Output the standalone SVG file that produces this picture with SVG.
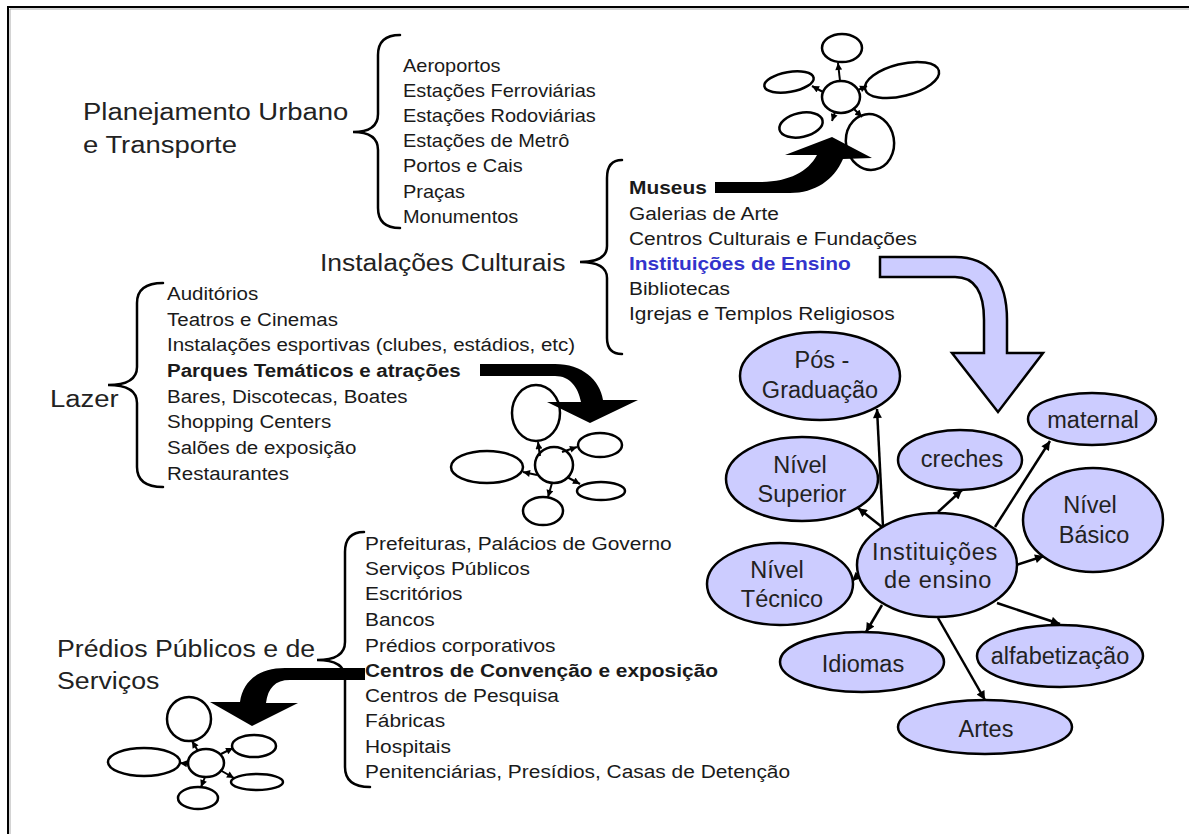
<svg xmlns="http://www.w3.org/2000/svg" width="1189" height="834" viewBox="0 0 1189 834">
  <style>
    .sm { font-family: "Liberation Sans", Arial, sans-serif; font-size: 19px; fill: #1a1a1a; }
    .lg { font-family: "Liberation Sans", Arial, sans-serif; font-size: 24.5px; fill: #222; }
    .b { font-weight: bold; }
    .blue { fill: #3333cc; }
    .brace { fill: none; stroke: #000; stroke-width: 2.5; stroke-linecap: round; }
    .node ellipse { fill: #ccccff; stroke: #000; stroke-width: 2.5; }
    .node text { font-family: "Liberation Sans", Arial, sans-serif; font-size: 23.5px; fill: #222; text-anchor: middle; }
    .mini { fill: #fff; stroke: #000; stroke-width: 2.5; }
    .edge { stroke: #000; stroke-width: 2.5; fill: none; marker-end: url(#ah); }
    .medge { stroke: #000; stroke-width: 2; fill: none; marker-end: url(#ahs); }
    .bigarrow { fill: #000; }
  </style>
  <defs>
    <marker id="ah" viewBox="0 0 10 10" refX="10" refY="5" markerWidth="11" markerHeight="9" markerUnits="userSpaceOnUse" orient="auto">
      <path d="M0,0 L10,5 L0,10 z" fill="#000"/>
    </marker>
    <marker id="ahs" viewBox="0 0 10 10" refX="10" refY="5" markerWidth="8" markerHeight="7" markerUnits="userSpaceOnUse" orient="auto">
      <path d="M0,0 L10,5 L0,10 z" fill="#000"/>
    </marker>
  </defs>

  <rect width="1189" height="834" fill="#fff"/>
  <!-- frame -->
  <path d="M8,860 L8,7 L1189,7" fill="none" stroke="#000" stroke-width="2"/>
  <path d="M10,860 L10,9 L1189,9" fill="none" stroke="#aaa" stroke-width="1"/>

  <!-- Planejamento Urbano e Transporte -->
  <g id="planejamento">
    <g transform="translate(83 0) scale(1.12 1)">
      <text class="lg" x="0" y="120">Planejamento Urbano</text>
      <text class="lg" x="0" y="153">e Transporte</text>
    </g>
    <path class="brace" d="M400,35 Q378,35 378,55 L378,114 Q378,132 353,132 Q378,132 378,150 L378,208 Q378,228 400,228"/>
    <g transform="translate(403 0) scale(1.05 1)">
      <text class="sm" x="0" y="72">Aeroportos</text>
      <text class="sm" x="0" y="97">Estações Ferroviárias</text>
      <text class="sm" x="0" y="122">Estações Rodoviárias</text>
      <text class="sm" x="0" y="147">Estações de Metrô</text>
      <text class="sm" x="0" y="172">Portos e Cais</text>
      <text class="sm" x="0" y="198">Praças</text>
      <text class="sm" x="0" y="223">Monumentos</text>
    </g>
  </g>

  <!-- Instalações Culturais -->
  <g id="culturais">
    <g transform="translate(320 0) scale(1.08 1)">
      <text class="lg" x="0" y="271">Instalações Culturais</text>
    </g>
    <path class="brace" d="M622,160 Q607,160 607,178 L607,246 Q607,262 580,262 Q607,262 607,278 L607,338 Q607,354 622,354"/>
    <g transform="translate(629 0) scale(1.1 1)">
      <text class="sm b" x="0" y="194">Museus</text>
      <text class="sm" x="0" y="220">Galerias de Arte</text>
      <text class="sm" x="0" y="245">Centros Culturais e Fundações</text>
      <text class="sm b blue" x="0" y="270">Instituições de Ensino</text>
      <text class="sm" x="0" y="295">Bibliotecas</text>
      <text class="sm" x="0" y="320">Igrejas e Templos Religiosos</text>
    </g>
  </g>

  <!-- Lazer -->
  <g id="lazer">
    <g transform="translate(50 0) scale(1.12 1)">
      <text class="lg" x="0" y="407">Lazer</text>
    </g>
    <path class="brace" d="M163,283 Q137,283 137,303 L137,367 Q137,385 108,385 Q137,385 137,403 L137,467 Q137,487 163,487"/>
    <g transform="translate(167 0) scale(1.08 1)">
      <text class="sm" x="0" y="300">Auditórios</text>
      <text class="sm" x="0" y="326">Teatros e Cinemas</text>
      <text class="sm" x="0" y="351">Instalações esportivas (clubes, estádios, etc)</text>
      <text class="sm b" x="0" y="377">Parques Temáticos e atrações</text>
      <text class="sm" x="0" y="403">Bares, Discotecas, Boates</text>
      <text class="sm" x="0" y="428">Shopping Centers</text>
      <text class="sm" x="0" y="454">Salões de exposição</text>
      <text class="sm" x="0" y="480">Restaurantes</text>
    </g>
  </g>

  <!-- Prédios Públicos e de Serviços -->
  <g id="predios">
    <g transform="translate(57 0) scale(1.09 1)">
      <text class="lg" x="0" y="657">Prédios Públicos e de</text>
      <text class="lg" x="0" y="689">Serviços</text>
    </g>
    <path class="brace" d="M364,532 Q345,532 345,552 L345,642 Q345,660 317,660 Q345,660 345,678 L345,767 Q345,787 370,787"/>
    <g transform="translate(365 0) scale(1.1 1)">
      <text class="sm" x="0" y="550">Prefeituras, Palácios de Governo</text>
      <text class="sm" x="0" y="575">Serviços Públicos</text>
      <text class="sm" x="0" y="600">Escritórios</text>
      <text class="sm" x="0" y="626">Bancos</text>
      <text class="sm" x="0" y="652">Prédios corporativos</text>
      <text class="sm b" x="0" y="677">Centros de Convenção e exposição</text>
      <text class="sm" x="0" y="702">Centros de Pesquisa</text>
      <text class="sm" x="0" y="727">Fábricas</text>
      <text class="sm" x="0" y="753">Hospitais</text>
      <text class="sm" x="0" y="778">Penitenciárias, Presídios, Casas de Detenção</text>
    </g>
  </g>

  <!-- small cluster sketch: top right -->
  <g id="cluster-top">
    <ellipse class="mini" cx="842" cy="48" rx="20" ry="14"/>
    <ellipse class="mini" cx="789" cy="82" rx="25" ry="10" transform="rotate(-10 789 82)"/>
    <ellipse class="mini" cx="841" cy="97" rx="19" ry="16"/>
    <ellipse class="mini" cx="902" cy="80" rx="38" ry="16" transform="rotate(-14 902 80)"/>
    <ellipse class="mini" cx="801" cy="125" rx="22" ry="12" transform="rotate(-12 801 125)"/>
    <ellipse class="mini" cx="870" cy="142" rx="24" ry="28" transform="rotate(-10 870 142)"/>
    <line class="medge" x1="840" y1="81" x2="838" y2="63"/>
    <line class="medge" x1="823" y1="92" x2="812" y2="86"/>
    <line class="medge" x1="858" y1="90" x2="867" y2="86"/>
    <line class="medge" x1="835" y1="112" x2="832" y2="121"/>
    <line class="medge" x1="853" y1="108" x2="862" y2="117"/>
  </g>

  <!-- small cluster sketch: middle -->
  <g id="cluster-mid">
    <ellipse class="mini" cx="536" cy="413" rx="24" ry="28"/>
    <ellipse class="mini" cx="554" cy="465" rx="19" ry="18"/>
    <ellipse class="mini" cx="487" cy="467" rx="36" ry="16"/>
    <ellipse class="mini" cx="600" cy="445" rx="22" ry="12"/>
    <ellipse class="mini" cx="601" cy="491" rx="24" ry="9"/>
    <ellipse class="mini" cx="543" cy="511" rx="20" ry="14"/>
    <line class="medge" x1="540" y1="456" x2="538" y2="442"/>
    <line class="medge" x1="562" y1="452" x2="577" y2="447"/>
    <line class="medge" x1="537" y1="475" x2="523" y2="472"/>
    <line class="medge" x1="567" y1="477" x2="580" y2="484"/>
    <line class="medge" x1="552" y1="483" x2="548" y2="497"/>
  </g>

  <!-- small cluster sketch: bottom left -->
  <g id="cluster-bottom">
    <ellipse class="mini" cx="189" cy="719" rx="22" ry="22"/>
    <ellipse class="mini" cx="206" cy="763" rx="18" ry="14"/>
    <ellipse class="mini" cx="144" cy="762" rx="36" ry="14"/>
    <ellipse class="mini" cx="254" cy="746" rx="22" ry="11"/>
    <ellipse class="mini" cx="257" cy="782" rx="26" ry="8"/>
    <ellipse class="mini" cx="198" cy="798" rx="20" ry="11"/>
    <line class="medge" x1="198" y1="751" x2="192" y2="741"/>
    <line class="medge" x1="189" y1="764" x2="180" y2="763"/>
    <line class="medge" x1="221" y1="754" x2="233" y2="748"/>
    <line class="medge" x1="220" y1="770" x2="234" y2="778"/>
    <line class="medge" x1="205" y1="777" x2="201" y2="787"/>
  </g>

  <!-- thick black arrows towards the small cluster sketches (drawn over them) -->
  <path class="bigarrow" d="M715,182 L760,182 C788,182 808,172 817,155 L785,155 L832,137 L872,158 L843,159 C834,180 815,193 790,193 L715,193 Z"/>
  <path class="bigarrow" d="M480,364 L555,364 C582,364 600,380 603,400 L638,400 L590,423 L547,402 L581,402 C578,387 570,376 555,376 L480,376 Z"/>
  <path class="bigarrow" d="M365,668 L285,668 C260,668 243,680 240,702 L210,702 L252,726 L298,703 L266,703 C268,688 275,680 290,680 L365,680 Z"/>

  <!-- lavender arrow from Instituições de Ensino down to the concept map -->
  <path d="M880,257 L955,257 C990,257 1007,280 1007,320 L1007,353 L1043,353 L998,412 L952,353 L984,353 L984,320 C984,292 975,277 955,277 L880,277 Z" fill="#ccccff" stroke="#000" stroke-width="2.5" stroke-linejoin="miter"/>

  <!-- concept map connectors -->
  <g id="connectors">
    <line class="edge" x1="883" y1="527" x2="877" y2="409"/>
    <line class="edge" x1="882" y1="527" x2="858" y2="508"/>
    <line class="edge" x1="938" y1="512" x2="962" y2="490"/>
    <line class="edge" x1="995" y1="527" x2="1050" y2="441"/>
    <line class="edge" x1="1016" y1="565" x2="1044" y2="556"/>
    <line class="edge" x1="862" y1="572" x2="852" y2="581"/>
    <line class="edge" x1="882" y1="605" x2="866" y2="632"/>
    <line class="edge" x1="997" y1="603" x2="1060" y2="624"/>
    <line class="edge" x1="938" y1="618" x2="985" y2="700"/>
  </g>

  <!-- concept map nodes -->
  <g id="pos-graduacao" class="node">
    <ellipse cx="820" cy="376" rx="80" ry="44"/>
    <text x="822" y="368">Pós -</text>
    <text x="820" y="398">Graduação</text>
  </g>
  <g id="nivel-superior" class="node">
    <ellipse cx="802" cy="479" rx="76" ry="42"/>
    <text x="800" y="473">Nível</text>
    <text x="802" y="502">Superior</text>
  </g>
  <g id="creches" class="node">
    <ellipse cx="960" cy="460" rx="62" ry="30"/>
    <text x="962" y="467">creches</text>
  </g>
  <g id="maternal" class="node">
    <ellipse cx="1092" cy="419" rx="64" ry="26"/>
    <text x="1093" y="428">maternal</text>
  </g>
  <g id="nivel-basico" class="node">
    <ellipse cx="1093" cy="520" rx="70" ry="52"/>
    <text x="1090" y="513">Nível</text>
    <text x="1094" y="543">Básico</text>
  </g>
  <g id="instituicoes" class="node">
    <ellipse cx="937" cy="565" rx="80" ry="52"/>
    <text x="935" y="560" letter-spacing="0.7">Instituições</text>
    <text x="938" y="588" letter-spacing="0.7">de ensino</text>
  </g>
  <g id="nivel-tecnico" class="node">
    <ellipse cx="780" cy="584" rx="73" ry="41"/>
    <text x="777" y="578">Nível</text>
    <text x="782" y="607">Técnico</text>
  </g>
  <g id="idiomas" class="node">
    <ellipse cx="862" cy="662" rx="82" ry="30"/>
    <text x="863" y="672">Idiomas</text>
  </g>
  <g id="alfabetizacao" class="node">
    <ellipse cx="1060" cy="656" rx="83" ry="31"/>
    <text x="1060" y="664">alfabetização</text>
  </g>
  <g id="artes" class="node">
    <ellipse cx="985" cy="727" rx="87" ry="27"/>
    <text x="986" y="737">Artes</text>
  </g>
</svg>
